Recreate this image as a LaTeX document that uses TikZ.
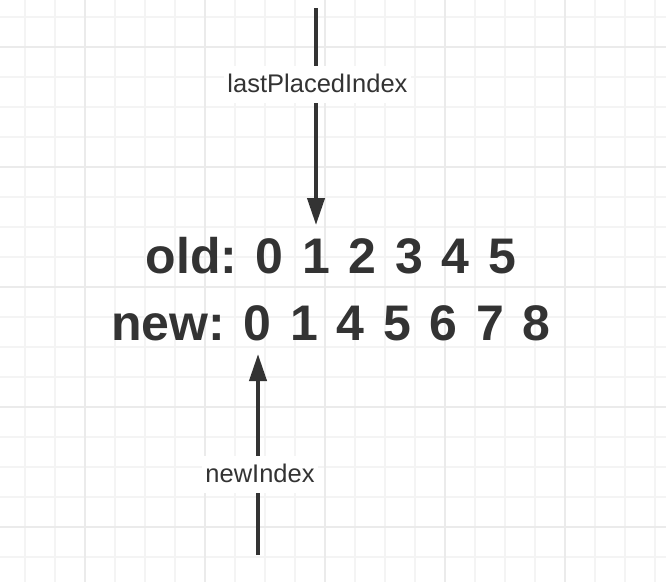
\documentclass[tikz,border=0pt]{standalone}
\usepackage{fontspec}
\setmainfont{Liberation Sans}
\usetikzlibrary{arrows.meta}
\definecolor{ink}{HTML}{333333}
\definecolor{gridminor}{HTML}{F4F4F4}
\definecolor{gridmajor}{HTML}{EBEBEB}
\tikzset{
  rowtext/.style={anchor=base, text=ink, inner sep=0pt,
    font=\fontsize{50}{60}\selectfont\bfseries},
  labeltext/.style={fill=white, text=ink, inner xsep=3pt, inner ysep=7pt,
    text height=19pt, text depth=4pt, anchor=base,
    font=\fontsize{25.5}{30}\selectfont},
  pointer/.style={draw=ink, line width=4pt,
    -{Triangle[length=27pt, width=17pt]}},
}
\begin{document}
\begin{tikzpicture}[x=1pt,y=-1pt]
  \useasboundingbox (0,0) rectangle (666,582);
  \fill[white] (0,0) rectangle (666,582);
  % grid
  \foreach \x in {25,55,...,655} \draw[gridminor, line width=1.5pt] (\x,0) -- (\x,582);
  \foreach \y in {17,47,...,577} \draw[gridminor, line width=1.5pt] (0,\y) -- (666,\y);
  \foreach \x in {85,205,...,565} \draw[gridmajor, line width=1.7pt] (\x,0) -- (\x,582);
  \foreach \y in {47,167,...,527} \draw[gridmajor, line width=1.7pt] (0,\y) -- (666,\y);
  % rows
  \node[rowtext] (old) at (331,273) {\frenchspacing\spaceskip=18.7pt\relax old: 0 1 2 3 4 5};
  \node[rowtext] (new) at (331,340) {\frenchspacing\spaceskip=18.7pt\relax new: 0 1 4 5 6 7 8};
  % pointers
  \coordinate (topstart) at (316,8);
  \coordinate (toptip) at (316,225);
  \coordinate (botstart) at (258,555);
  \coordinate (bottip) at (258,354);
  \draw[pointer] (topstart) -- (toptip);
  \draw[pointer] (botstart) -- (bottip);
  \node[labeltext] (lpi) at (317.5,92) {lastPlacedIndex};
  \node[labeltext] (ni) at (260,482) {newIndex};
\end{tikzpicture}
\end{document}
